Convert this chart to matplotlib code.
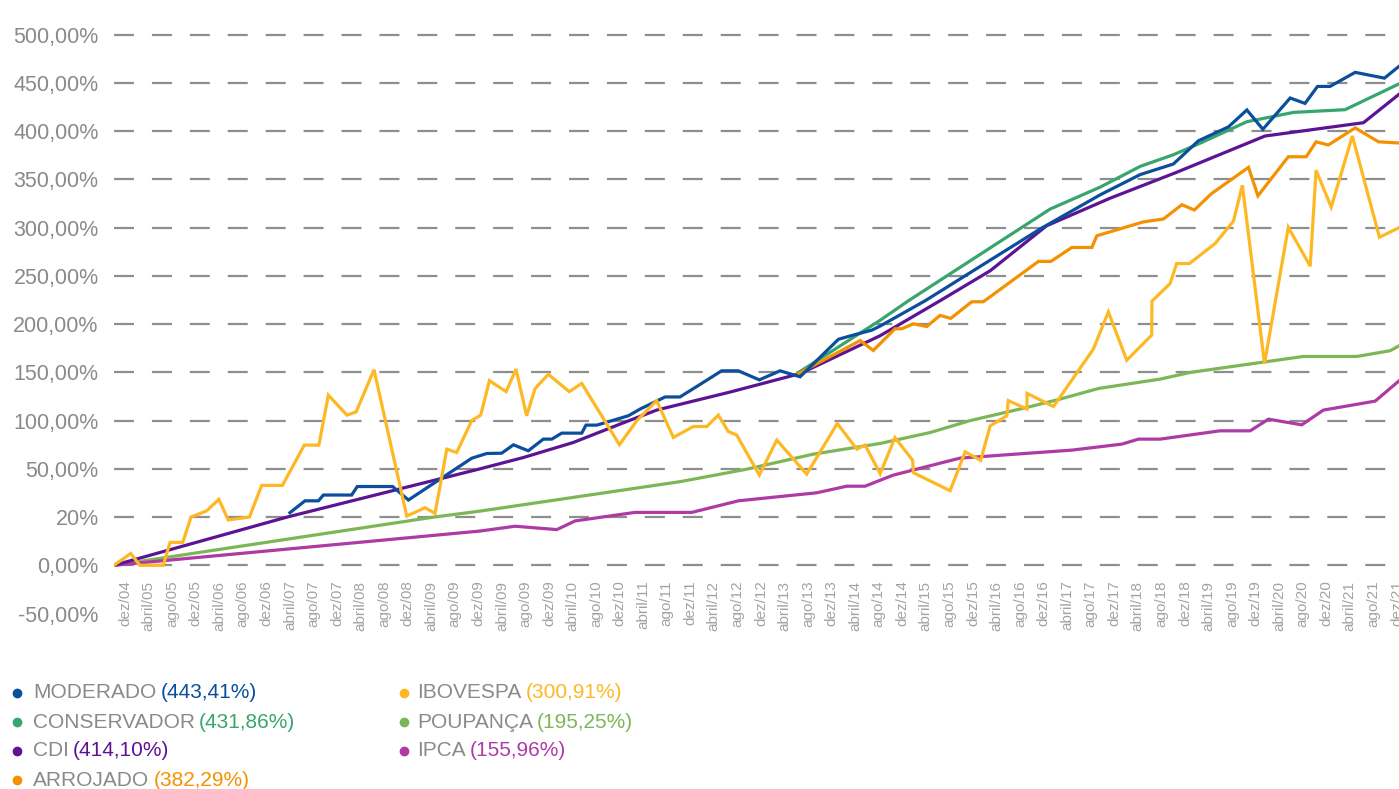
import numpy as np
import matplotlib
matplotlib.use('Agg')
import matplotlib.pyplot as plt
from matplotlib.lines import Line2D

plt.rcParams['font.family'] = ['Liberation Sans', 'DejaVu Sans']
plt.rcParams['lines.scale_dashes'] = False

# x is measured in label steps (one step = 4 months, dez/04 = 0)
ibov_x = [0.00, 0.71, 1.10, 2.09, 2.38, 2.92, 3.27, 3.94, 4.45, 4.85, 5.75, 6.27, 7.15, 8.08, 8.70,
          9.10, 9.89, 10.28, 11.04, 12.43, 13.21, 13.63, 14.13, 14.55, 15.19, 15.57, 15.94, 16.65,
          17.07, 17.52, 17.88, 18.44, 19.33, 19.86, 21.46, 22.20, 23.04, 23.75, 24.60, 25.17, 25.66,
          26.08, 26.44, 27.40, 28.14, 29.41, 30.71, 31.54, 31.89, 32.53, 33.16, 33.91, 33.94, 35.50,
          36.14, 36.80, 37.20, 37.91, 37.97, 38.76, 38.77, 39.89, 41.58, 42.22, 43.00, 44.06, 44.07,
          44.84, 45.12, 45.66, 46.75, 47.53, 47.91, 48.85, 49.86, 50.79, 51.04, 51.68, 52.58, 53.73,
          54.60]
ibov_y = [0, 4.9, 0, 0, 9.5, 9.5, 20, 23.9, 31, 18.8, 20, 39.7, 39.7, 74.6, 74.6,
          126.4, 105.7, 109, 152.7, 20.6, 25.8, 22.3, 70.4, 66.9, 100, 105.7, 141.4, 130,
          153.4, 105, 133.2, 148, 130, 138.6, 75, 100, 120.7, 82.5, 93.9, 93.9, 105.7,
          88.7, 85, 46.1, 79.8, 46.7, 97, 70.4, 74.6, 47, 82.4, 58.8, 47.6, 36.4,
          67.6, 58.8, 94.5, 105, 120.7, 112, 128.2, 114.6, 174, 212.7, 162.6, 188.6, 223.8,
          242, 262.8, 262.8, 283.5, 306.7, 344, 159, 300.4, 260, 359.6, 321.3, 395, 290,
          300.5]

mod_x = [7.47, 8.11, 8.68, 8.89, 10.09, 10.33, 11.83, 12.50, 15.19, 15.83, 16.46, 16.96, 17.59,
         18.23, 18.59, 19.01, 19.86, 20.04, 20.50, 21.84, 22.34, 23.40, 24.03, 24.74, 25.80, 26.51,
         27.40, 28.28, 29.13, 30.76, 31.25, 32.17, 32.53, 34.44, 39.32, 41.87, 43.57, 44.98, 46.04,
         47.32, 48.10, 48.78, 49.94, 50.57, 51.10, 51.63, 52.70, 53.94, 54.60]
mod_y = [22.7, 30.1, 30.1, 33.7, 33.7, 39, 39, 30.6, 61, 65.9, 66.2, 74.9, 68.7,
         80.8, 80.8, 87, 87, 95.3, 95.3, 105, 112, 124.5, 124.5, 135.3, 151.6, 151.6,
         142.2, 151.6, 145.4, 184.3, 187.7, 193.7, 198, 224.2, 298.6, 334, 355, 366, 390,
         404.5, 422, 402, 434.4, 428.8, 446.4, 446.4, 461, 455, 468]

cons_x = [29.06, 32.53, 33.73, 39.75, 41.87, 43.57, 44.98, 46.04, 48.10, 50.08, 52.27, 54.60]
cons_y = [149.8, 204, 224.2, 319.3, 342, 363.5, 375.6, 386.7, 409.8, 419.5, 422.3, 449.5]

cdi_x = [0, 7.35, 15.54, 17.38, 19.50, 21.49, 23.04, 26.16, 29.13, 32.53, 35.07, 37.20, 39.60,
         42.29, 45.12, 48.87, 53.05, 54.60]
cdi_y = [0, 20, 50, 61.7, 77.3, 96.4, 110.9, 129.6, 148.7, 188, 224.2, 255.3, 302,
         330.5, 357.4, 395, 408.8, 439]

arr_x = [29.06, 31.68, 32.24, 33.16, 33.45, 33.94, 34.51, 35.07, 35.53, 36.42, 36.91, 39.25, 39.78,
         40.67, 41.52, 41.73, 43.71, 44.56, 45.34, 45.87, 46.61, 48.17, 48.57, 49.86, 50.62, 51.04,
         51.56, 52.70, 53.69, 54.60]
arr_y = [148.7, 183, 172.7, 195.2, 195.2, 200.3, 197.5, 209, 206, 223.2, 223.2, 265, 265,
         279.5, 279.5, 291.6, 306, 309, 323.8, 318.3, 335.5, 362.5, 333, 373.5, 373.5, 389,
         385.7, 403.4, 389, 387.7]

poup_x = [0, 13.59, 15.54, 24.03, 26.87, 29.69, 32.53, 34.65, 36.35, 38.75, 40.17, 41.80, 44.42,
          45.69, 50.50, 52.77, 54.18, 54.60]
poup_y = [0, 20, 23.7, 42, 49.8, 65.2, 76.3, 87.6, 100, 113.6, 122.3, 133.3, 143,
          149.9, 166.5, 166.5, 172.4, 178]

ipca_x = [0, 15.54, 17.03, 18.80, 19.58, 22.12, 24.53, 26.51, 29.84, 31.11, 31.89, 32.53, 33.09,
          35.92, 40.67, 42.79, 43.50, 44.42, 46.96, 48.24, 49.02, 50.43, 51.35, 53.55, 54.60]
ipca_y = [0, 14.2, 16.2, 14.8, 18.4, 22.9, 22.9, 30.1, 35.1, 39.2, 39.2, 42.9, 46.1,
          61.1, 69.4, 75.6, 80.8, 80.8, 89.4, 89.4, 101.5, 95.6, 110.9, 120.2, 142]

names = ['MODERADO', 'CONSERVADOR', 'CDI', 'ARROJADO', 'IBOVESPA', 'POUPANÇA', 'IPCA']
totals = ['(443,41%)', '(431,86%)', '(414,10%)', '(382,29%)', '(300,91%)', '(195,25%)', '(155,96%)']
colors = ['#0B4F9C', '#37A66E', '#5C1394', '#F39200', '#FDB823', '#7DB656', '#AE3AA3']

ytick_vals = [-50, 0, 20, 50, 100, 150, 200, 250, 300, 350, 400, 450, 500]
ytick_labels = ['-50,00%', '0,00%', '20%', '50,00%', '100,00%', '150,00%', '200,00%', '250,00%',
                '300,00%', '350,00%', '400,00%', '450,00%', '500,00%']

label_years = [5, 6, 7, 8, 9, 9, 10, 11, 12, 13, 14, 15, 16, 17, 18, 19, 20, 21]
xlabels = ['dez/04']
for yr in label_years:
    xlabels += [f'abril/{yr:02d}', f'ago/{yr:02d}', f'dez/{yr:02d}']

# axis is evenly spaced by tick, not by value
lev_vals = [-100, -50, 0, 20] + list(range(50, 701, 50))
lev_pos = list(range(-2, len(lev_vals) - 2))


def fwd(v):
    return np.interp(v, lev_vals, lev_pos)


def inv(p):
    return np.interp(p, lev_pos, lev_vals)


W, H = 1399, 789
fig = plt.figure(figsize=(W / 100, H / 100), dpi=100)
ax = fig.add_axes([114 / W, (H - 628) / H, (W - 114) / W, 628 / H])
ax.set_yscale('function', functions=(fwd, inv))
ax.set_xlim(0, 54.56)
ax.set_ylim(-65, 536)

for v in ytick_vals[1:]:
    ax.axhline(v, color='#8E8E8E', lw=1.6, linestyle=(0, (14.4, 12.9)), zorder=1)

series = [(poup_x, poup_y, 5), (ipca_x, ipca_y, 6), (cdi_x, cdi_y, 2), (cons_x, cons_y, 1),
          (arr_x, arr_y, 3), (mod_x, mod_y, 0), (ibov_x, ibov_y, 4)]
for xs, ys, k in series:
    ax.plot(xs, ys, color=colors[k], lw=2.3, solid_joinstyle='miter', zorder=3)

ax.set_yticks(ytick_vals, ytick_labels)
ax.yaxis.set_minor_locator(matplotlib.ticker.NullLocator())
ax.tick_params(axis='y', length=0, pad=11, labelsize=15.5, labelcolor='#8A8A8A')
# the date labels sit a little right of each point
ax.set_xticks(np.arange(len(xlabels)) + 0.47, xlabels)
ax.tick_params(axis='x', length=0, pad=11, labelsize=11, labelcolor='#A3A3A3', labelrotation=90)
ax.spines['bottom'].set_position(('data', 0))
for sp in ax.spines.values():
    sp.set_visible(False)

# legend at the bottom, two columns
rows_y = [693, 722, 751, 780]
for k in range(len(names)):
    col, row = divmod(k, 4)
    dot_x = [17, 404][col]
    txt_x = [33, 417][col]
    y = 1 - rows_y[row] / H
    fig.add_artist(Line2D([dot_x / W], [y], marker='o', ms=6, color=colors[k], lw=0,
                          transform=fig.transFigure))
    t = fig.text(txt_x / W, y, names[k], color='#8A8A8A', fontsize=15, va='center')
    ax.annotate(totals[k], xy=(1, 0.5), xycoords=t, xytext=(3, 0), textcoords='offset points',
                va='center', fontsize=15, color=colors[k], annotation_clip=False)

fig.savefig('out.png', dpi=100)
